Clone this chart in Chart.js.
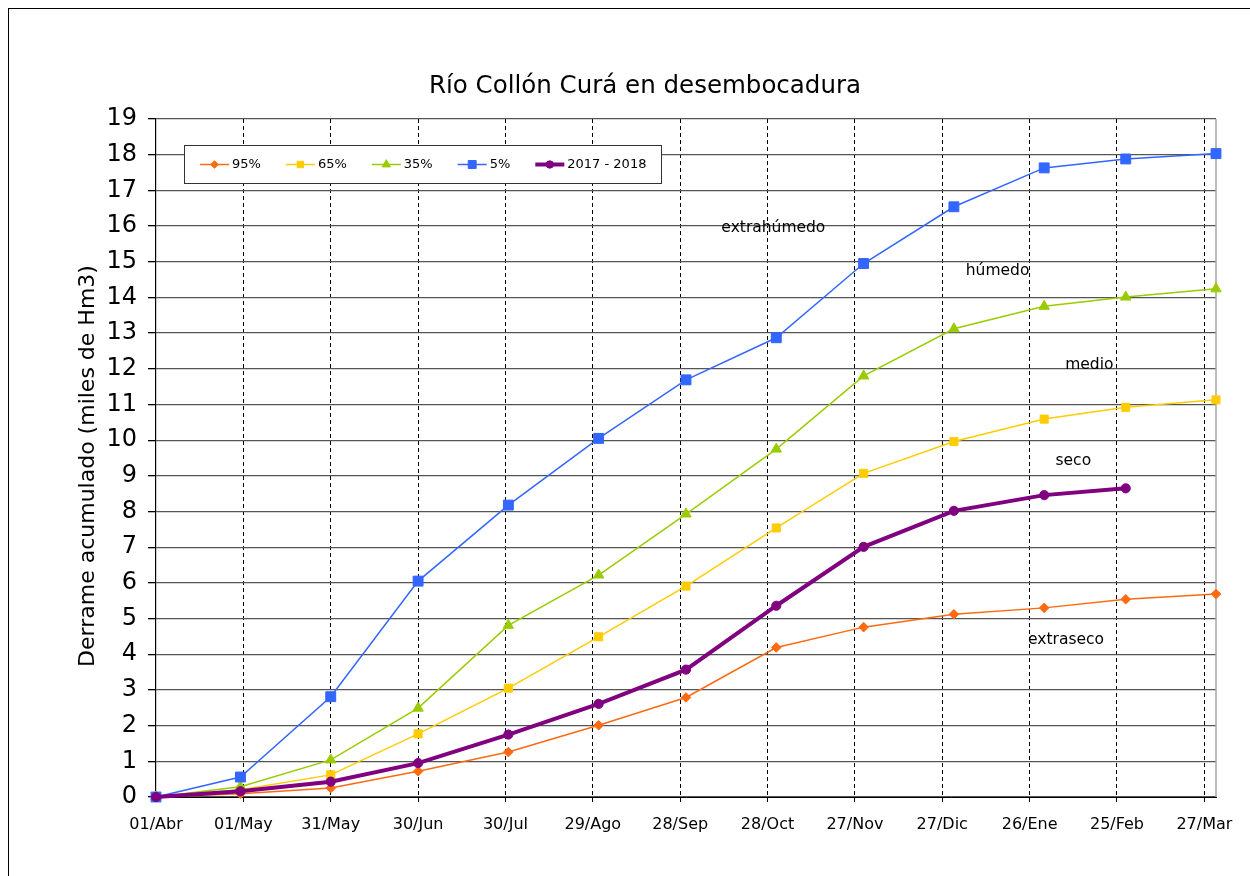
<!DOCTYPE html>
<html>
<head>
<meta charset="utf-8">
<title>Río Collón Curá en desembocadura</title>
<script src="https://cdn.jsdelivr.net/npm/chart.js@4.4.1/dist/chart.umd.min.js"></script>
<style>
  html, body { margin: 0; padding: 0; background: #fff; overflow: hidden; }
  #marco { position: absolute; left: 8px; top: 8px; width: 1400px; height: 1000px; border: 1px solid #000; }
  #wrap { position: absolute; left: 0; top: 0; width: 1250px; height: 876px; }
</style>
</head>
<body>
<div id="marco"></div>
<div id="wrap"><canvas id="grafico" width="1250" height="876"></canvas></div>
<script>
// Derrame acumulado del Río Collón Curá (miles de Hm3), año hidrológico abril - marzo.
// Eje x en días desde el 01/Abr; los valores son a fin de cada mes.

const fechas = ['01/Abr', '01/May', '31/May', '30/Jun', '30/Jul', '29/Ago', '28/Sep',
                '28/Oct', '27/Nov', '27/Dic', '26/Ene', '25/Feb', '27/Mar'];
const dias = [0, 29, 60, 90, 121, 152, 182, 213, 243, 274, 305, 333, 364];

const p95 = [0, 0.09, 0.25, 0.72, 1.26, 2.01, 2.79, 4.19, 4.76, 5.12, 5.30, 5.54, 5.69];
const p65 = [0, 0.20, 0.62, 1.77, 3.05, 4.49, 5.91, 7.54, 9.07, 9.96, 10.59, 10.92, 11.13];
const p35 = [0, 0.29, 1.04, 2.49, 4.81, 6.22, 7.93, 9.75, 11.80, 13.12, 13.75, 14.01, 14.24];
const p5 = [0, 0.56, 2.81, 6.05, 8.18, 10.05, 11.69, 12.87, 14.95, 16.54, 17.63, 17.88, 18.03];
const obs2017 = [0, 0.16, 0.43, 0.95, 1.75, 2.61, 3.57, 5.36, 7.01, 8.02, 8.46, 8.65, null];

// textos de cada franja (día, valor)
const etiquetas = ['extrahúmedo', 'húmedo', 'medio', 'seco', 'extraseco'];
const etiquetaDia = [212, 289, 320.5, 315, 312.5];
const etiquetaValor = [15.96, 14.75, 12.11, 9.42, 4.39];

const tituloY = 'Derrame acumulado (miles de Hm3)';
const FUENTE = '"DejaVu Sans", Verdana, sans-serif';

function serie(valores) {
  return dias.map((d, i) => ({ x: d, y: valores[i] }));
}

function dataset(label, valores, color, estilo, radio, ancho, orden) {
  return {
    label: label,
    data: serie(valores),
    borderColor: color,
    backgroundColor: color,
    pointBackgroundColor: color,
    pointBorderColor: color,
    pointStyle: estilo,
    pointRadius: radio,
    pointBorderWidth: 1,
    borderWidth: ancho,
    tension: 0,
    clip: false,
    order: orden
  };
}

// leyenda en recuadro dentro del área de trazado, con línea + marcador
const leyenda = {
  id: 'leyendaRecuadro',
  afterDraw(chart) {
    const ctx = chart.ctx;
    const area = chart.chartArea;
    const x0 = Math.round(area.left + 28), y0 = Math.round(area.top + 26), h = 38;
    ctx.save();
    ctx.font = '13px ' + FUENTE;
    const sets = chart.data.datasets;
    let w = 16;
    sets.forEach(ds => { w += 32 + ctx.measureText(ds.label).width + 25; });
    w = Math.round(w - 25 + 15);
    ctx.fillStyle = '#fff';
    ctx.fillRect(x0, y0, w, h);
    ctx.strokeStyle = '#333';
    ctx.lineWidth = 1;
    ctx.strokeRect(x0 + 0.5, y0 + 0.5, w, h);
    let x = x0 + 16;
    const yc = y0 + h / 2 + 0.5;
    sets.forEach(ds => {
      ctx.strokeStyle = ds.borderColor;
      ctx.lineWidth = ds.borderWidth;
      ctx.beginPath();
      ctx.moveTo(x, yc);
      ctx.lineTo(x + 29, yc);
      ctx.stroke();
      ctx.fillStyle = ds.pointBackgroundColor;
      ctx.strokeStyle = ds.pointBorderColor;
      ctx.lineWidth = 1;
      Chart.helpers.drawPoint(ctx, {
        pointStyle: ds.pointStyle, radius: ds.pointRadius * 0.8, rotation: 0, borderWidth: 1
      }, x + 14.5, yc);
      ctx.fillStyle = '#000';
      ctx.textAlign = 'left';
      ctx.textBaseline = 'middle';
      ctx.fillText(ds.label, x + 32, yc);
      x += 32 + ctx.measureText(ds.label).width + 25;
    });
    ctx.restore();
  }
};

// borde derecho del área, título del eje y y textos de franjas
const franjas = {
  id: 'franjas',
  beforeDatasetsDraw(chart) {
    const ctx = chart.ctx;
    const area = chart.chartArea;
    ctx.save();
    ctx.strokeStyle = '#a6a6a6';
    ctx.lineWidth = 1.5;
    ctx.beginPath();
    ctx.moveTo(area.right, area.top);
    ctx.lineTo(area.right, area.bottom);
    ctx.stroke();

    ctx.translate(88, (area.top + area.bottom) / 2 + 8);
    ctx.rotate(-Math.PI / 2);
    ctx.font = '22px ' + FUENTE;
    ctx.fillStyle = '#000';
    ctx.textAlign = 'center';
    ctx.textBaseline = 'middle';
    ctx.fillText(tituloY, 0, 0);
    ctx.restore();
  },
  afterDatasetsDraw(chart) {
    const ctx = chart.ctx;
    const sx = chart.scales.x, sy = chart.scales.y;
    ctx.save();
    ctx.font = '15.5px ' + FUENTE;
    ctx.fillStyle = '#000';
    ctx.textAlign = 'center';
    ctx.textBaseline = 'middle';
    etiquetas.forEach((t, i) => {
      ctx.fillText(t, sx.getPixelForValue(etiquetaDia[i]), sy.getPixelForValue(etiquetaValor[i]));
    });
    ctx.restore();
  }
};

new Chart(document.getElementById('grafico'), {
  type: 'line',
  data: {
    datasets: [
      dataset('95%', p95, '#ff6a10', 'rectRot', 4.8, 1.5, 5),
      dataset('65%', p65, '#ffcc00', 'rect', 5.7, 1.5, 4),
      dataset('35%', p35, '#99cc00', 'triangle', 6, 1.5, 3),
      dataset('5%', p5, '#3366ff', 'rect', 7, 1.5, 2),
      dataset('2017 - 2018', obs2017, '#800080', 'circle', 4.6, 4, 1)
    ]
  },
  options: {
    responsive: false,
    animation: false,
    events: [],
    layout: { padding: { left: 74, right: 34, top: 0, bottom: 0 } },
    plugins: {
      legend: { display: false },
      tooltip: { enabled: false },
      title: {
        display: true,
        text: 'Río Collón Curá en desembocadura',
        color: '#000',
        font: { family: FUENTE, size: 24.5, weight: 'normal' },
        padding: { top: 72.3, bottom: 17.3 }
      }
    },
    scales: {
      x: {
        type: 'linear',
        min: 0,
        max: 364,
        afterFit(scale) { scale.height = 79; },
        afterBuildTicks(scale) {
          scale.ticks = fechas.map((f, i) => ({ value: i * 30 }));
        },
        ticks: {
          stepSize: 30,
          includeBounds: false,
          autoSkip: false,
          maxRotation: 0,
          padding: 13,
          color: '#000',
          font: { family: FUENTE, size: 16 },
          callback: (v) => fechas[Math.round(v / 30)]
        },
        grid: {
          color: (c) => (c.tick && c.tick.value === 0 ? 'rgba(0,0,0,0)' : '#000'),
          lineWidth: 1,
          tickLength: 5,
          tickColor: '#000',
          tickBorderDash: [4, 3]
        },
        border: { color: '#000', width: 1, dash: [4, 3] }
      },
      y: {
        min: 0,
        max: 19,
        afterFit(scale) { scale.width = 82; },
        ticks: {
          stepSize: 1,
          padding: 11,
          color: '#000',
          font: { family: FUENTE, size: 24 }
        },
        grid: {
          color: '#555',
          lineWidth: 1.3,
          tickLength: 8,
          tickColor: '#000'
        },
        border: { color: '#000', width: 1.2 }
      }
    }
  },
  plugins: [franjas, leyenda]
});
</script>
</body>
</html>
